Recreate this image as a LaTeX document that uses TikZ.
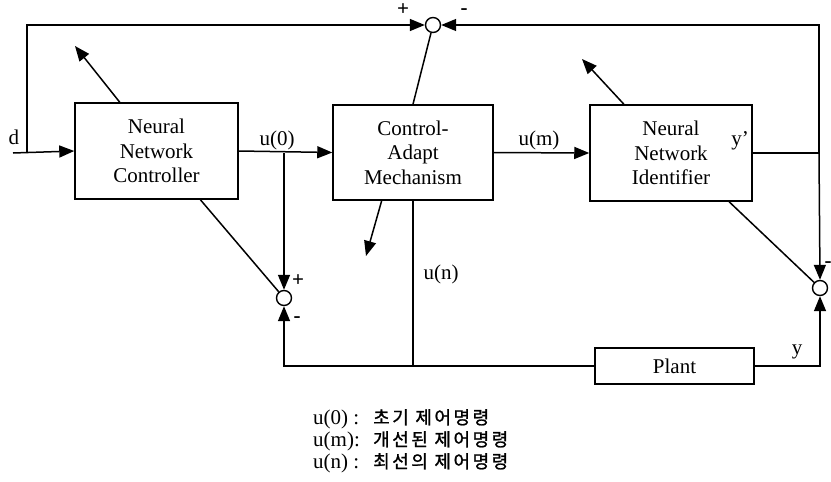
\documentclass[tikz,border=0pt]{standalone}
\usepackage{fontspec}
\setmainfont{Liberation Serif}
\newfontfamily\krfont{Noto Sans CJK KR}[FakeBold=1.2,LetterSpace=14]
\usetikzlibrary{arrows.meta}
\tikzset{
  block/.style={draw,line width=1.5pt,minimum width=#1,minimum height=96pt,inner sep=2pt,align=center,font=\fontsize{21}{24.5}\selectfont},
  sumpt/.style={draw,circle,line width=1.4pt,minimum size=15pt,inner sep=0pt},
  sig/.style={line width=1.5pt,-{Triangle[length=15pt,width=12pt]}},
  wire/.style={line width=1.5pt},
  lbl/.style={font=\fontsize{21}{22}\selectfont,inner sep=0pt},
  sgn/.style={font=\fontsize{21}{22}\selectfont\bfseries,inner sep=0pt}
}
\newcommand{\legline}[2]{\makebox[60pt][l]{\fontsize{21}{22}\selectfont #1}{\krfont\fontsize{18}{22}\selectfont #2}}

\begin{document}
\begin{tikzpicture}[x=1pt,y=-1pt]
\useasboundingbox (0,0) rectangle (831,482);
% blocks
\node[block=163pt] (nnc) at (156.5,151) {Neural\\Network\\Controller};
\node[block=160pt,minimum height=95pt] (cam) at (413,152.5) {Control-\\Adapt\\Mechanism};
\node[block=162pt] (nni) at (671,153) {Neural\\Network\\Identifier};
\node[block=159pt,minimum height=36pt] (plant) at (674.5,366) {Plant};
% summing points
\node[sumpt] (topsum) at (433,25) {};
\node[sumpt] (lsum) at (284,298) {};
\node[sumpt] (rsum) at (820,288) {};
% helper points
\coordinate (din) at (13,153);
\coordinate (dsplit) at (27,153);
\coordinate (u0split) at (284,153);
\coordinate (yjoin) at (819,153);
\coordinate (unjoin) at (413,365);
\coordinate (nncadapt) at (75,46);
\coordinate (camadapt) at (366,256);
\coordinate (nniadapt) at (582,59);
% signals
\draw[sig] (din) -- (nnc.west);
\draw[sig] (dsplit) |- (topsum.west);
\draw[sig] (nnc.east) -- (cam.west);
\draw[sig] (u0split) -- (lsum.north);
\draw[sig] (cam.east) -- (nni.west);
\draw[wire] (nni.east) -- (yjoin);
\draw[sig] (yjoin) |- (topsum.east);
\draw[sig] (yjoin) -- (rsum.north);
\draw[wire] (topsum) -- (cam.north);
\draw[wire] (nnc.-48) -- (lsum);
\draw[wire] (nni.-40) -- (rsum);
\draw[sig] (plant.west) -| (lsum.south);
\draw[sig] (plant.east) -| (rsum.south);
\draw[wire] (cam.south) -- (unjoin);
% adaptation arrows
\draw[sig] (nnc.127) -- (nncadapt);
\draw[sig] (cam.-123) -- (camadapt);
\draw[sig] (nni.134) -- (nniadapt);
% labels
\node[lbl,anchor=base] (dlbl) at (14,144) {d};
\node[lbl,anchor=base] (u0lbl) at (277,145) {u(0)};
\node[lbl,anchor=base] (umlbl) at (539,145) {u(m)};
\node[lbl,anchor=base] (yplbl) at (740,145) {y'};
\node[lbl,anchor=base] (ylbl) at (797,354) {y};
\node[lbl,anchor=base] (unlbl) at (441,279) {u(n)};
\node[sgn] (tplus) at (403,10) {+};
\node[sgn] (tminus) at (464,12) {-};
\node[sgn] (lplus) at (298,281) {+};
\node[sgn] (lminus) at (297,320) {-};
\node[sgn] (rminus) at (828,265) {-};
% legend
\node[anchor=base west,inner sep=0pt] (leg1) at (313,424) {\legline{u(0)\ :}{초기 제어명령}};
\node[anchor=base west,inner sep=0pt] (leg2) at (313,446) {\legline{u(m):}{개선된 제어명령}};
\node[anchor=base west,inner sep=0pt] (leg3) at (313,468) {\legline{u(n)\ :}{최선의 제어명령}};
\end{tikzpicture}
\end{document}
